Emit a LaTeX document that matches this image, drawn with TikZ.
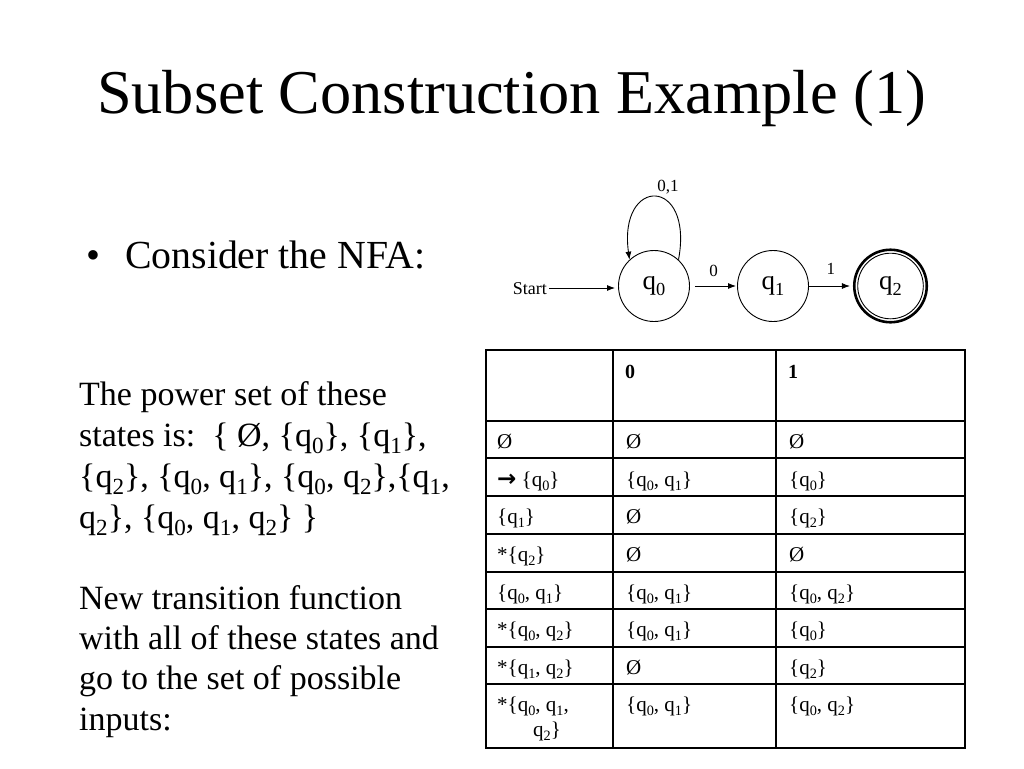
\documentclass[tikz,border=0pt]{standalone}
\usepackage{fontspec}
\setmainfont{Liberation Serif}
\newfontfamily\arrowfont{DejaVu Sans}
\usetikzlibrary{arrows.meta}
\newcommand{\qs}[1]{q\raisebox{-0.22em}{\scalebox{0.68}{#1}}}
\tikzset{
  titletext/.style={font=\fontsize{62.3}{70}\selectfont, anchor=base west, inner sep=0pt},
  bullettext/.style={font=\fontsize{39.8}{46}\selectfont, anchor=base west, inner sep=0pt},
  paratext/.style={font=\fontsize{34}{41}\selectfont, anchor=base west, inner sep=0pt},
  celltext/.style={font=\fontsize{21}{24}\selectfont, anchor=base west, inner sep=0pt},
  headtext/.style={font=\fontsize{20}{24}\selectfont\bfseries, anchor=base west, inner sep=0pt},
  state/.style={circle, draw, line width=0.9pt, minimum size=71pt, inner sep=0pt, font=\fontsize{27}{30}\selectfont},
  accepting/.style={line width=2.6pt, minimum size=72.5pt},
  edgelabel/.style={font=\fontsize{17}{20}\selectfont, inner sep=0pt},
  arr/.style={-{Latex[length=8pt,width=6pt]}, line width=0.9pt},
  grid/.style={line width=1.4pt}
}
\begin{document}
\begin{tikzpicture}[x=1pt,y=-1pt]
\useasboundingbox (0,0) rectangle (1024,768);
\fill[white] (0,0) rectangle (1024,768);

% Title
\node[titletext] (title) at (97,113) {Subset Construction Example (1)};

% Bullet
\node[bullettext] (bullet) at (86,268) {\textbullet};
\node[bullettext] (consider) at (125,268) {Consider the NFA:};

% NFA
\node[state] (q0) at (654,286) {\qs0};
\node[state] (q1) at (773,286) {\qs1};
\node[state, accepting] (q2) at (890.5,286) {\qs2};
\draw[line width=0.9pt] (q2.center) circle (32.8pt);
\node[edgelabel, font=\fontsize{18}{20}\selectfont, anchor=base east] (start) at (547,294) {Start};
\coordinate (s0) at (549,288);
\draw[arr, shorten >=3pt] (s0) -- (q0.west |- s0);
\draw[arr, shorten <=5pt, shorten >=1pt] (q0) -- (q1) node[edgelabel, midway, above=9pt] (l0) {0};
\draw[arr, shorten >=3pt] (q1) -- (q2) node[edgelabel, midway, above=11pt] (l1) {1};
\draw[arr] (q0.47) .. controls (694,176) and (618,176) .. (q0.133);
\node[edgelabel] (l01) at (668,187) {0,1};

% Power set paragraph
\node[paratext] (p1) at (79,405) {The power set of these};
\node[paratext] (p2) at (79,446) {states is:\ \ \{ Ø, \{\qs0\}, \{\qs1\},};
\node[paratext] (p3) at (79,487) {\{\qs2\}, \{\qs0, \qs1\}, \{\qs0, \qs2\},\{\qs1,};
\node[paratext] (p4) at (79,528) {\qs2\}, \{\qs0, \qs1, \qs2\} \}};

\node[paratext] (n1) at (79,609) {New transition function};
\node[paratext] (n2) at (79,649) {with all of these states and};
\node[paratext] (n3) at (79,689) {go to the set of possible};
\node[paratext] (n4) at (79,730) {inputs:};

% Table grid
\draw[grid] (486,350) rectangle (965,748);
\foreach \x in {613,776} \draw[grid] (\x,350) -- (\x,748);
\foreach \y in {421,458,496,534,572,609,647,684} \draw[grid] (486,\y) -- (965,\y);

% Header
\node[headtext] (h0) at (625,378) {0};
\node[headtext] (h1) at (788,378) {1};

% Rows
\node[celltext] (r1a) at (497,448) {Ø};
\node[celltext] (r1b) at (626,448) {Ø};
\node[celltext] (r1c) at (789,448) {Ø};

\node[celltext] (r2a) at (497,486) {{\arrowfont\bfseries\fontsize{23}{24}\selectfont →} \{\qs0\}};
\node[celltext] (r2b) at (626,486) {\{\qs0, \qs1\}};
\node[celltext] (r2c) at (789,486) {\{\qs0\}};

\node[celltext] (r3a) at (497,523) {\{\qs1\}};
\node[celltext] (r3b) at (626,523) {Ø};
\node[celltext] (r3c) at (789,523) {\{\qs2\}};

\node[celltext] (r4a) at (497,561) {*\{\qs2\}};
\node[celltext] (r4b) at (626,561) {Ø};
\node[celltext] (r4c) at (789,561) {Ø};

\node[celltext] (r5a) at (497,599) {\{\qs0, \qs1\}};
\node[celltext] (r5b) at (626,599) {\{\qs0, \qs1\}};
\node[celltext] (r5c) at (789,599) {\{\qs0, \qs2\}};

\node[celltext] (r6a) at (497,636) {*\{\qs0, \qs2\}};
\node[celltext] (r6b) at (626,636) {\{\qs0, \qs1\}};
\node[celltext] (r6c) at (789,636) {\{\qs0\}};

\node[celltext] (r7a) at (497,674) {*\{\qs1, \qs2\}};
\node[celltext] (r7b) at (626,674) {Ø};
\node[celltext] (r7c) at (789,674) {\{\qs2\}};

\node[celltext] (r8a) at (497,711) {*\{\qs0, \qs1,};
\node[celltext] (r8d) at (533,736) {\qs2\}};
\node[celltext] (r8b) at (626,711) {\{\qs0, \qs1\}};
\node[celltext] (r8c) at (789,711) {\{\qs0, \qs2\}};
\end{tikzpicture}
\end{document}
